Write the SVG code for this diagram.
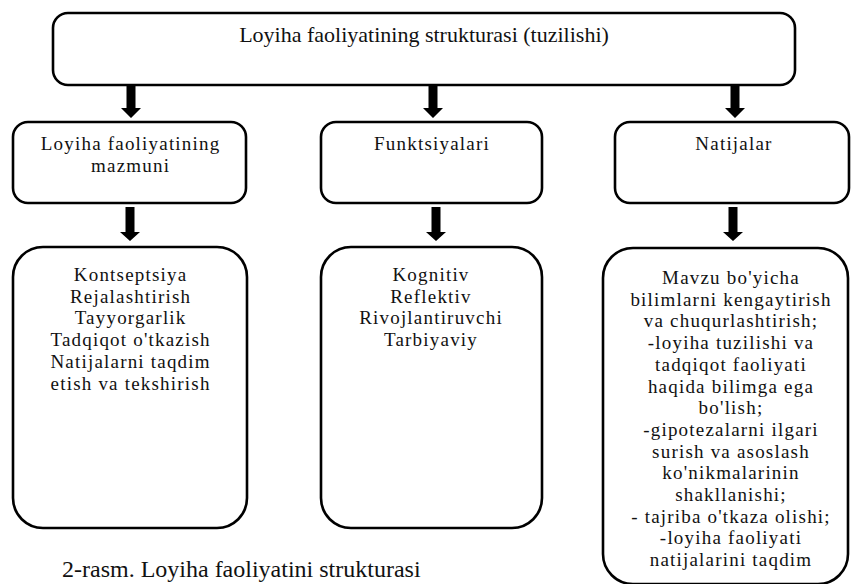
<svg xmlns="http://www.w3.org/2000/svg" width="852" height="584" viewBox="0 0 852 584">
<style>
.box{fill:#fff;stroke:#000;stroke-width:2.6}
.t{font-family:"Liberation Serif","Times New Roman",serif;font-size:19px;letter-spacing:1.2px;fill:#111;text-anchor:middle}
.title{font-family:"Liberation Serif","Times New Roman",serif;font-size:22px;fill:#111;text-anchor:middle}
.cap{font-family:"Liberation Serif","Times New Roman",serif;font-size:24px;fill:#111}
.arr{fill:#000}
</style>
<defs>
<path id="arrTop" d="M-4.5,0 H4.5 V22 H10 L0,32 L-10,22 H-4.5 Z"/>
<path id="arrMid" d="M-4.5,0 H4.5 V25 H10 L0,34 L-10,25 H-4.5 Z"/>
</defs>
<rect width="852" height="584" fill="#fff"/>

<g id="connectors">
<use href="#arrTop" class="arr" x="131" y="86"/>
<use href="#arrTop" class="arr" x="433" y="86"/>
<use href="#arrTop" class="arr" x="735" y="86"/>
<use href="#arrMid" class="arr" x="130" y="207"/>
<use href="#arrMid" class="arr" x="436" y="207"/>
<use href="#arrMid" class="arr" x="733" y="207"/>
</g>

<g id="root">
<rect class="box" x="53" y="13" width="742" height="72" rx="15"/>
<text class="title" x="424" y="42">Loyiha faoliyatining strukturasi (tuzilishi)</text>
</g>

<g id="mazmuni">
<rect class="box" x="13" y="122" width="233" height="81" rx="15"/>
<text class="t" x="130.6" y="150">Loyiha faoliyatining</text>
<text class="t" x="130.6" y="172">mazmuni</text>
</g>

<g id="funktsiyalari">
<rect class="box" x="321" y="122" width="221" height="81" rx="15"/>
<text class="t" x="432" y="150">Funktsiyalari</text>
</g>

<g id="natijalar">
<rect class="box" x="615" y="122" width="234" height="81" rx="15"/>
<text class="t" x="734" y="150">Natijalar</text>
</g>

<g id="mazmuni-list">
<rect class="box" x="13" y="247" width="234" height="281" rx="30"/>
<text class="t" x="130.6" y="281">Kontseptsiya</text>
<text class="t" x="130.6" y="302.7">Rejalashtirish</text>
<text class="t" x="130.6" y="324.4">Tayyorgarlik</text>
<text class="t" x="130.6" y="346.1">Tadqiqot o'tkazish</text>
<text class="t" x="130.6" y="367.8">Natijalarni taqdim</text>
<text class="t" x="130.6" y="389.5">etish va tekshirish</text>
</g>

<g id="funktsiyalari-list">
<rect class="box" x="321" y="247" width="221" height="281" rx="30"/>
<text class="t" x="431" y="281">Kognitiv</text>
<text class="t" x="431" y="302.7">Reflektiv</text>
<text class="t" x="431" y="324.4">Rivojlantiruvchi</text>
<text class="t" x="431" y="346.1">Tarbiyaviy</text>
</g>

<g id="natijalar-list">
<rect class="box" x="603" y="248" width="245" height="336" rx="30"/>
<text class="t" x="731" y="284">Mavzu bo'yicha</text>
<text class="t" x="731" y="305.7">bilimlarni kengaytirish</text>
<text class="t" x="731" y="327.4">va chuqurlashtirish;</text>
<text class="t" x="731" y="349.1">-loyiha tuzilishi va</text>
<text class="t" x="731" y="370.8">tadqiqot faoliyati</text>
<text class="t" x="731" y="392.5">haqida bilimga ega</text>
<text class="t" x="731" y="414.2">bo'lish;</text>
<text class="t" x="731" y="435.9">-gipotezalarni ilgari</text>
<text class="t" x="731" y="457.6">surish va asoslash</text>
<text class="t" x="731" y="479.3">ko'nikmalarinin</text>
<text class="t" x="731" y="501">shakllanishi;</text>
<text class="t" x="731" y="522.7">- tajriba o'tkaza olishi;</text>
<text class="t" x="731" y="544.4">-loyiha faoliyati</text>
<text class="t" x="731" y="566.1">natijalarini taqdim</text>
</g>

<g id="caption">
<text class="cap" x="62" y="577">2-rasm. Loyiha faoliyatini strukturasi</text>
</g>
</svg>
